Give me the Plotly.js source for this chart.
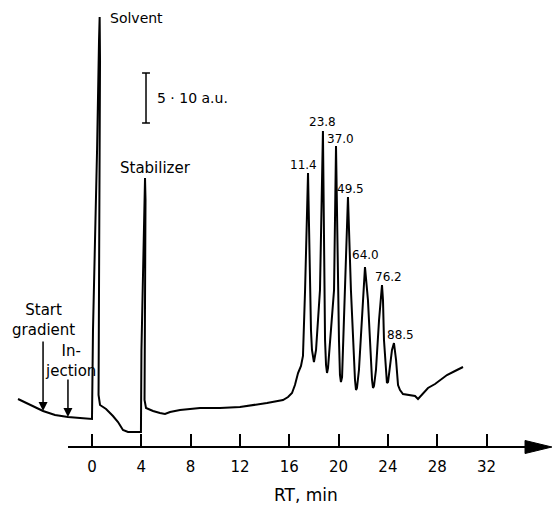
<!DOCTYPE html>
<html>
<head>
<meta charset="utf-8">
<script src="https://cdn.plot.ly/plotly-3.0.1.min.js"></script>
<style>html,body{margin:0;padding:0;background:#fff;}#chart{width:552px;height:507px;}</style>
</head>
<body>
<div id="chart"></div>
<script>
// Chromatogram trace: retention time (min) and detector signal (arbitrary units)
var rt = [-6.00,-5.03,-3.97,-3.00,-1.95,-0.97,-0.08,
  0.00,0.08,0.24,0.41,0.57,0.62,0.65,0.61,0.53,0.65,1.14,1.70,2.11,2.51,2.92,3.89,
  3.97,4.01,4.22,4.30,4.34,4.26,4.38,4.95,5.51,5.92,6.33,7.14,8.76,10.38,12.00,13.22,14.19,15.49,15.90,16.22,16.46,
  16.71,16.95,17.11,17.19,17.28,17.52,17.68,17.76,17.84,18.00,18.17,18.33,
  18.49,18.73,18.82,18.90,18.98,19.06,19.14,19.30,19.46,
  19.63,19.79,19.95,20.03,20.11,20.19,20.28,20.36,
  20.52,20.76,21.00,21.17,21.33,21.41,21.49,21.65,
  21.90,22.14,22.38,22.55,22.71,22.79,22.87,23.03,
  23.28,23.52,23.60,23.68,23.84,23.92,24.01,24.17,
  24.33,24.49,24.66,24.82,24.98,
  25.22,25.79,26.20,26.44,26.68,27.25,27.82,28.79,29.44,30.09];
var signal = [48,42,36,32,30,29,28,
  28,117,197,297,407,430,387,247,52,42,38,31,25,17,15,15,
  15,97,247,269,247,47,39,36,34,33,35,37,39,39,40,42,44,47,50,54,62,
  74,81,91,117,157,274,157,117,97,85,97,127,
  157,316,157,107,82,74,79,107,132,
  157,301,157,107,72,65,70,97,
  157,250,157,107,67,57,59,77,
  127,180,147,97,67,59,61,77,
  127,162,147,107,72,64,65,82,
  97,104,87,62,57,
  53,52,51,48,51,59,63,72,76,80];

// Axis ticks
var tickVals = [0,4,8,12,16,20,24,28,32];
var tickText = ["0","4","8","12","16","20","24","28","32"];

// Peak labels (text and where they sit, in data units)
var peakLabels = ["11.4","23.8","37.0","49.5","64.0","76.2","88.5"];
var peakLabelRt = [17.19,18.73,20.15,20.98,22.22,24.01,24.98];
var peakLabelSig = [282,325,308,258,192,170,112];

var FONT = "DejaVu Sans, Liberation Sans, sans-serif";

var trace = {
  type: "scatter", mode: "lines", x: rt, y: signal,
  line: {color: "#000", width: 2}, hoverinfo: "skip", showlegend: false
};

var annotations = [];
for (var i = 0; i < peakLabels.length; i++) {
  annotations.push({x: peakLabelRt[i], y: peakLabelSig[i], xref: "x", yref: "y", text: peakLabels[i],
    showarrow: false, font: {family: FONT, size: 12, color: "#000"}, xanchor: "center", yanchor: "middle"});
}
function txt(x, y, t, size, xanchor, yref) {
  annotations.push({x: x, y: y, xref: "x", yref: yref || "y", text: t, showarrow: false,
    font: {family: FONT, size: size, color: "#000"}, xanchor: xanchor || "center", yanchor: "middle"});
}
txt(1.30, 429, "Solvent", 14, "left");
txt(5.11, 349, "5 · 10 a.u.", 14, "left");
txt(2.11, 279, "Stabilizer", 15, "left");
txt(-3.97, 127, "Start<br>gradient", 15);
txt(-1.78, 86, "In-<br>jection", 15);
txt(17.36, -0.076, "RT, min", 17, "center", "paper");

// arrows for Start gradient and Injection
annotations.push({x: -3.97, y: 36, xref: "x", yref: "y", ax: 0, ay: -71, axref: "pixel", ayref: "pixel",
  text: "", showarrow: true, arrowhead: 2, arrowsize: 1.2, arrowwidth: 1.5, arrowcolor: "#000"});
annotations.push({x: -1.95, y: 30, xref: "x", yref: "y", ax: 0, ay: -39, axref: "pixel", ayref: "pixel",
  text: "", showarrow: true, arrowhead: 2, arrowsize: 1.2, arrowwidth: 1.5, arrowcolor: "#000"});

var shapes = [
  // x axis line and arrow head
  {type: "line", xref: "x", yref: "y", x0: -1.946, x1: 35.3, y0: 0, y1: 0, line: {color: "#000", width: 2}},
  {type: "path", xref: "x", yref: "y", path: "M 35.12,6.5 L 37.3,0 L 35.12,-6.5 Z", fillcolor: "#000", line: {color: "#000", width: 1}},
  // scale bar
  {type: "line", xref: "x", yref: "y", x0: 4.38, x1: 4.38, y0: 324, y1: 374, line: {color: "#000", width: 1.5}},
  {type: "line", xref: "x", yref: "y", x0: 4.06, x1: 4.70, y0: 374, y1: 374, line: {color: "#000", width: 1.5}},
  {type: "line", xref: "x", yref: "y", x0: 4.06, x1: 4.70, y0: 324, y1: 324, line: {color: "#000", width: 1.5}}
];

var layout = {
  width: 552, height: 507,
  margin: {l: 0, r: 0, t: 0, b: 47, pad: 0},
  paper_bgcolor: "#fff", plot_bgcolor: "#fff",
  showlegend: false,
  xaxis: {range: [-7.4615, 37.307], anchor: "free", position: 13/460, showline: false, showgrid: false, zeroline: false,
    tickmode: "array", tickvals: tickVals, ticktext: tickText, ticks: "inside", ticklen: 13, tickwidth: 2, tickcolor: "#000",
    ticklabelstandoff: 9, tickfont: {family: FONT, size: 15, color: "#000"}, fixedrange: true},
  yaxis: {range: [-13, 447], visible: false, showgrid: false, zeroline: false, fixedrange: true},
  annotations: annotations,
  shapes: shapes
};

Plotly.newPlot("chart", [trace], layout, {displayModeBar: false, staticPlot: true});
</script>
</body>
</html>
